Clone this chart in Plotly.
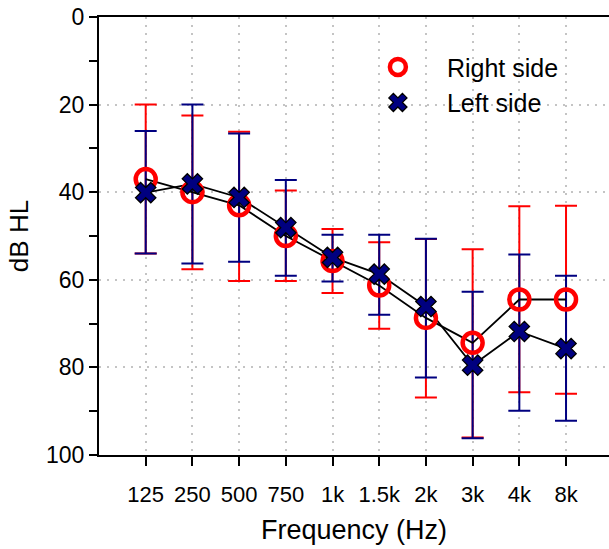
import plotly.graph_objects as go

# ---- data ----
freqs = ["125", "250", "500", "750", "1k", "1.5k", "2k", "3k", "4k", "8k"]

right_mean = [37.0, 40.0, 43.0, 50.0, 55.7, 61.3, 68.7, 74.4, 64.5, 64.5]
right_low = [20.0, 22.5, 26.2, 39.6, 48.4, 51.4, 50.7, 53.0, 43.2, 43.1]
right_high = [54.0, 57.6, 60.3, 60.3, 63.0, 71.2, 86.9, 96.0, 85.7, 86.0]

left_mean = [40.1, 38.1, 41.2, 48.1, 54.9, 58.7, 66.1, 79.5, 71.8, 75.7]
left_low = [26.0, 20.0, 26.6, 37.2, 49.7, 49.7, 50.6, 62.7, 54.2, 59.1]
left_high = [54.0, 56.3, 55.9, 59.1, 60.4, 68.0, 82.3, 96.2, 89.9, 92.2]

y_ticks = [0, 20, 40, 60, 80, 100]

RED = "#FF0000"
BLUE = "#000080"
GRID = "#C4C4C4"
FONT = "Arial, Liberation Sans, sans-serif"


def err(mean, low, high):
    plus = [h - m for m, h in zip(mean, high)]
    minus = [m - l for m, l in zip(mean, low)]
    return plus, minus


rp, rm = err(right_mean, right_low, right_high)
lp, lm = err(left_mean, left_low, left_high)

fig = go.Figure()

# error bars (red under blue)
fig.add_trace(go.Scatter(
    x=freqs, y=right_mean, mode="markers",
    marker=dict(size=1, color="rgba(0,0,0,0)"),
    error_y=dict(type="data", symmetric=False, array=rp, arrayminus=rm,
                 color=RED, thickness=2, width=11),
    showlegend=False, hoverinfo="skip"))
fig.add_trace(go.Scatter(
    x=freqs, y=left_mean, mode="markers",
    marker=dict(size=1, color="rgba(0,0,0,0)"),
    error_y=dict(type="data", symmetric=False, array=lp, arrayminus=lm,
                 color=BLUE, thickness=2, width=11),
    showlegend=False, hoverinfo="skip"))

# connecting lines
fig.add_trace(go.Scatter(x=freqs, y=right_mean, mode="lines",
                         line=dict(color="black", width=1.8),
                         showlegend=False, hoverinfo="skip"))
fig.add_trace(go.Scatter(x=freqs, y=left_mean, mode="lines",
                         line=dict(color="black", width=1.8),
                         showlegend=False, hoverinfo="skip"))

# markers
fig.add_trace(go.Scatter(
    x=freqs, y=right_mean, mode="markers", name="Right side",
    marker=dict(symbol="circle-open", size=20, color=RED,
                line=dict(color=RED, width=4.5))))
fig.add_trace(go.Scatter(
    x=freqs, y=left_mean, mode="markers", name="Left side",
    marker=dict(symbol="x", size=18, color=BLUE,
                line=dict(color="black", width=1.3))))

fig.update_layout(
    width=609, height=549,
    margin=dict(l=99, r=0, t=17, b=94, autoexpand=False),
    paper_bgcolor="white", plot_bgcolor="white",
    font=dict(family=FONT, color="black", size=22),
    legend=dict(x=0.49, y=0.938, xanchor="left", yanchor="top",
                bgcolor="rgba(0,0,0,0)", font=dict(size=25),
                itemwidth=88, tracegroupgap=0),
)

fig.update_xaxes(
    type="category", range=[-1, 9.92], automargin=False,
    showline=True, linecolor="black", linewidth=2, mirror=True,
    ticks="outside", ticklen=9, tickwidth=2, tickcolor="black",
    ticklabelstandoff=10,
    showgrid=True, gridcolor=GRID, griddash="2px,6px", gridwidth=2,
    tickfont=dict(size=22),
    title=dict(text="Frequency (Hz)", font=dict(size=27), standoff=14),
    zeroline=False,
)
fig.update_yaxes(
    range=[100, 0], tickvals=y_ticks, automargin=False,
    ticklabeloverflow="allow",
    showline=True, linecolor="black", linewidth=2, mirror=False,
    ticks="outside", ticklen=8, tickwidth=2, tickcolor="black",
    minor=dict(dtick=10, tick0=0, ticks="outside", ticklen=8, tickwidth=2,
               tickcolor="black", showgrid=False),
    showgrid=True, gridcolor=GRID, griddash="2px,6px", gridwidth=2,
    tickfont=dict(size=23),
    title=dict(text="dB HL", font=dict(size=26), standoff=10),
    zeroline=False,
)

# remove the browser's default 8px body margin so the figure fills the window
fig.write_html("out.html", config={"displayModeBar": False},
               post_script="document.body.style.margin='0';")
